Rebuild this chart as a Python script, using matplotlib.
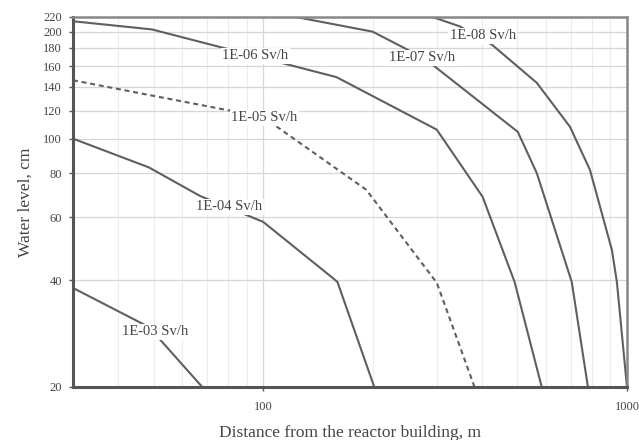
import matplotlib.pyplot as plt
from matplotlib.ticker import FixedLocator, FixedFormatter, NullFormatter

plt.rcParams['font.family'] = ['Liberation Serif', 'DejaVu Serif']

# isolines of dose rate: distance from building (m) vs water level (cm)
x_e03 = [30, 48.5, 68]
y_e03 = [38, 29.5, 20]

x_e04 = [30, 48.5, 67, 100, 155, 160, 202]
y_e04 = [100, 83, 69, 58.3, 40.6, 39.5, 20]

x_e05 = [30, 100, 192, 300, 381]
y_e05 = [146, 115, 71.8, 39.3, 20]

x_e06 = [30, 49.4, 159, 300, 401, 491, 583]
y_e06 = [214, 203, 149, 106, 68.6, 39.5, 20]

x_e07 = [123, 200, 278, 501, 565, 705, 781]
y_e07 = [220, 200, 168, 104.5, 80, 39.5, 20]

x_e08 = [292, 347, 425, 565, 697, 791, 909, 938, 1000]
y_e08 = [220, 207, 184, 143.6, 108, 81.7, 48.6, 39.5, 20]

# inline labels (text, x, y)
labels = ["1E-03 Sv/h", "1E-04 Sv/h", "1E-05 Sv/h",
          "1E-06 Sv/h", "1E-07 Sv/h", "1E-08 Sv/h"]
label_x = [50.4, 80.6, 100.6, 95, 274, 401]
label_y = [28.6, 64.3, 114.5, 171, 169, 195]

y_ticks = [20, 40, 60, 80, 100, 120, 140, 160, 180, 200, 220]
x_ticks = [100, 1000]

line_col = "#5f5f5f"
text_col = "#444444"

fig = plt.figure(figsize=(6.39, 4.40), dpi=100)
ax = fig.add_axes([0.1142, 0.1205, 0.8670, 0.8409])

ax.set_xscale("log")
ax.set_yscale("log")
ax.set_xlim(30, 1000)
ax.set_ylim(20, 220)

ax.plot(x_e03, y_e03, color=line_col, lw=1.5)
ax.plot(x_e04, y_e04, color=line_col, lw=1.5)
ax.plot(x_e05, y_e05, color=line_col, lw=1.5, dashes=(2.4, 1.8))
ax.plot(x_e06, y_e06, color=line_col, lw=1.5)
ax.plot(x_e07, y_e07, color=line_col, lw=1.5)
ax.plot(x_e08, y_e08, color=line_col, lw=1.5)

for t, lx, ly in zip(labels, label_x, label_y):
    ax.text(lx, ly, t, fontsize=10.5, color=text_col, ha="center", va="center",
            bbox=dict(facecolor="white", edgecolor="none", pad=1.0), zorder=5)

# ticks
ax.yaxis.set_major_locator(FixedLocator(y_ticks))
ax.yaxis.set_major_formatter(FixedFormatter([str(v) for v in y_ticks]))
ax.yaxis.set_minor_locator(FixedLocator(list(range(22, 100, 2))))
ax.yaxis.set_minor_formatter(NullFormatter())

ax.xaxis.set_major_locator(FixedLocator(x_ticks))
ax.xaxis.set_major_formatter(FixedFormatter([str(v) for v in x_ticks]))
ax.xaxis.set_minor_locator(FixedLocator([40, 50, 60, 70, 80, 90,
                                         200, 300, 400, 500, 600, 700, 800, 900]))
ax.xaxis.set_minor_formatter(NullFormatter())

ax.tick_params(axis="both", which="major", labelsize=9, labelcolor=text_col,
               color="#555555", length=3, width=1)
ax.tick_params(axis="x", which="major", pad=7)
ax.tick_params(axis="y", which="major", pad=5)
ax.tick_params(axis="both", which="minor", color="#555555", length=2, width=0.8,
               direction="inout")

# grid
ax.grid(True, which="major", color="#d6d6d6", lw=0.9)
ax.grid(True, which="minor", axis="x", color="#ececec", lw=0.8)
ax.set_axisbelow(True)

for side in ["left", "bottom"]:
    ax.spines[side].set_color("#555555")
    ax.spines[side].set_linewidth(2.2)
for side in ["top", "right"]:
    ax.spines[side].set_color("#888888")
    ax.spines[side].set_linewidth(1.8)

ax.set_xlabel("Distance from the reactor building, m", fontsize=12.5,
              color=text_col, labelpad=9)
ax.set_ylabel("Water level, cm", fontsize=12.5, color=text_col, labelpad=7)

fig.savefig("out.png", dpi=100)
